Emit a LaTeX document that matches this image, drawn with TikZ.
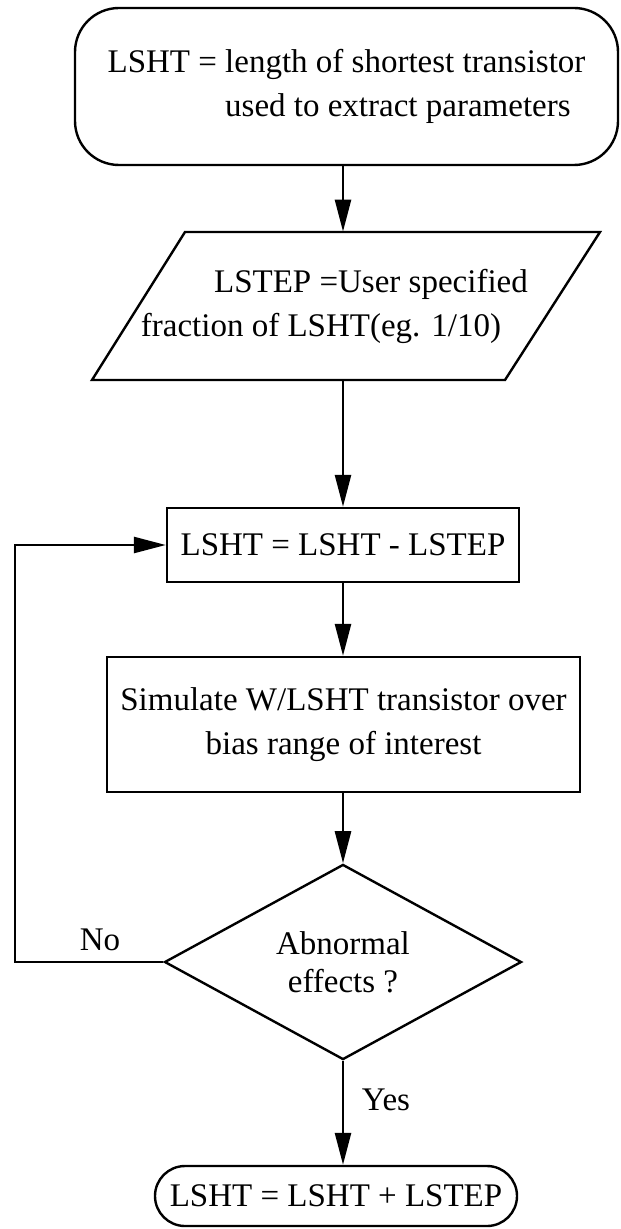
\documentclass[tikz,border=0pt]{standalone}
\usepackage{fontspec}
\setmainfont{Liberation Serif}
\usetikzlibrary{shapes.geometric,arrows.meta}
\begin{document}
\begin{tikzpicture}[x=0.5pt,y=-0.5pt,
  every node/.style={font=\fontsize{16.5}{22}\selectfont, inner sep=0pt},
  box/.style={draw, line width=1.2pt},
  arr/.style={line width=1.3pt, -{Triangle[length=16pt,width=8pt]}},
  ln/.style={line width=1.3pt}]
\useasboundingbox (0,0) rectangle (620,1229);
% nodes
\node[box, rounded corners=22pt, minimum width=271.5pt, minimum height=78.5pt, align=left] (start) at (346.5,86.5)
  {LSHT = length of shortest transistor\\\phantom{LSHT = }used to extract parameters};
\node[minimum width=200pt, minimum height=74pt, align=center] (par) at (346,306)
  {\hspace*{25pt}LSTEP =User specified\\fraction of LSHT(eg. 1/10)\hspace*{25pt}};
\draw[box] (185,232) -- (600,232) -- (505,380) -- (92,380) -- cycle;
\node[box, rectangle, minimum width=176pt, minimum height=37pt] (sub) at (343,545)
  {LSHT = LSHT - LSTEP};
\node[box, rectangle, minimum width=236.5pt, minimum height=67.5pt, align=center] (sim) at (343.5,724.5)
  {Simulate W/LSHT transistor over\\bias range of interest};
\node[box, diamond, minimum width=178.5pt, minimum height=96pt, align=center] (dec) at (343,962)
  {Abnormal\\[-3pt]effects ?};
\node[box, rounded corners=15pt, minimum width=181pt, minimum height=30pt] (end) at (336,1196)
  {LSHT = LSHT + LSTEP};
\node (no) at (100,940) {No};
\node (yes) at (386,1100) {Yes};
\coordinate (lp) at (15,545);
% connectors
\draw[arr] (start.south -| sub) -- (par.north -| sub);
\draw[arr] (par.south -| sub) -- (sub.north);
\draw[arr] (sub.south) -- (sim.north -| sub);
\draw[arr] (sim.south -| dec) -- (dec.north);
\draw[arr] (dec.south) -- (dec.south |- end.north);
\draw[arr] (dec.west) -| (lp) -- (sub.west);
\end{tikzpicture}
\end{document}
